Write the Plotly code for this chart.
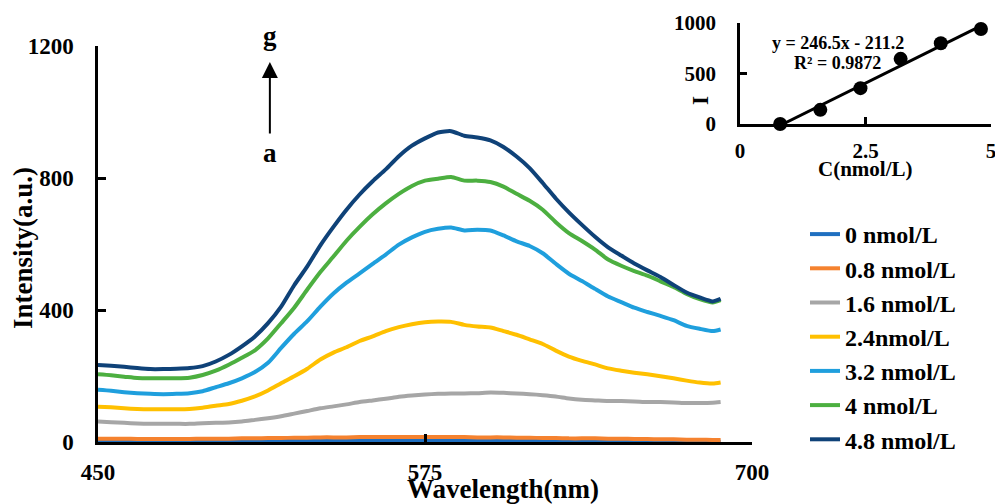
import plotly.graph_objects as go

# ---------------- data ----------------
wavelength = [450, 455, 460, 465, 470, 475, 480, 485, 490, 495, 500, 505, 510, 515, 520, 525,
              530, 535, 540, 545, 550, 555, 560, 565, 570, 575, 580, 585, 590, 595, 600, 605,
              610, 615, 620, 625, 630, 635, 640, 645, 650, 655, 660, 665, 670, 675, 680, 685, 688]

c0_0 = [4, 4, 3, 3, 3, 3, 3, 3, 3, 3, 3, 3, 3, 3, 4, 4,
        4, 4, 4, 4, 4, 4, 4, 4, 4, 4, 4, 4, 4, 4, 4, 4,
        4, 3, 3, 3, 3, 3, 3, 3, 3, 3, 2, 2, 2, 2, 2, 1, 1]
c0_8 = [10, 10, 10, 9, 9, 9, 9, 9, 10, 10, 10, 11, 11, 12, 12, 13,
        13, 14, 14, 14, 15, 15, 15, 15, 15, 15, 15, 15, 15, 14, 14, 14,
        13, 13, 12, 12, 11, 11, 11, 10, 10, 9, 9, 8, 8, 7, 7, 6, 6]
c1_6 = [62, 60, 58, 56, 55, 55, 55, 55, 57, 58, 59, 62, 67, 72, 78, 86,
        94, 102, 108, 114, 121, 126, 131, 137, 141, 144, 146, 147, 147, 148, 150, 149,
        147, 145, 142, 138, 132, 128, 126, 124, 124, 123, 121, 121, 120, 118, 118, 119, 121]
c2_4 = [107, 105, 102, 100, 99, 99, 99, 100, 104, 110, 115, 125, 138, 156, 178, 199,
        222, 250, 271, 287, 306, 320, 336, 348, 357, 363, 365, 364, 355, 350, 347, 336,
        325, 311, 297, 277, 259, 246, 235, 223, 216, 210, 205, 199, 193, 186, 180, 177, 180]
c3_2 = [158, 155, 151, 148, 146, 145, 146, 148, 154, 166, 178, 193, 212, 240, 285, 328,
        366, 410, 450, 483, 511, 540, 568, 598, 620, 637, 646, 650, 641, 643, 641, 626,
        608, 594, 572, 540, 510, 488, 464, 441, 424, 407, 394, 382, 369, 352, 343, 336, 341]
c4_0 = [205, 202, 198, 194, 193, 193, 193, 195, 203, 216, 234, 255, 278, 314, 360, 407,
        462, 515, 562, 610, 652, 690, 723, 752, 776, 792, 798, 803, 792, 792, 788, 774,
        752, 731, 704, 666, 633, 609, 583, 553, 534, 518, 504, 487, 470, 449, 433, 423, 430]
c4_8 = [233, 231, 228, 224, 221, 221, 222, 224, 230, 244, 264, 290, 320, 360, 410, 475,
        532, 596, 652, 704, 750, 790, 826, 866, 898, 920, 938, 942, 928, 923, 914, 894,
        865, 830, 785, 738, 696, 658, 622, 590, 565, 541, 520, 500, 476, 453, 438, 426, 434]

series_names = ["0 nmol/L", "0.8 nmol/L", "1.6 nmol/L", "2.4nmol/L", "3.2 nmol/L", "4 nmol/L", "4.8 nmol/L"]
series_values = [c0_0, c0_8, c1_6, c2_4, c3_2, c4_0, c4_8]
series_colors = ["#1F6FC0", "#F5822F", "#A6A6A6", "#FFC000", "#1F9FDD", "#4CAF40", "#0F4278"]

# inset calibration data
conc = [0.8, 1.6, 2.4, 3.2, 4.0, 4.8]
inset_I = [0, 140, 355, 645, 800, 940]
fit_slope = 246.5
fit_intercept = -211.2

FONT = "Liberation Serif, Times New Roman, serif"

fig = go.Figure()

for name, vals, col in zip(series_names, series_values, series_colors):
    fig.add_trace(go.Scatter(x=wavelength, y=vals, mode="lines", name=name,
                             line=dict(color=col, width=4, shape="spline", smoothing=0.6),
                             xaxis="x", yaxis="y"))

# inset: trend line computed from fit
x_start = -fit_intercept / fit_slope
x_end = conc[-1]
fig.add_trace(go.Scatter(x=[x_start, x_end],
                         y=[fit_slope * x_start + fit_intercept, fit_slope * x_end + fit_intercept],
                         mode="lines", line=dict(color="black", width=3),
                         showlegend=False, xaxis="x2", yaxis="y2", cliponaxis=False))
fig.add_trace(go.Scatter(x=conc, y=inset_I, mode="markers",
                         marker=dict(color="black", size=14),
                         showlegend=False, xaxis="x2", yaxis="y2", cliponaxis=False))

W, H = 995, 504
ml, mr, mt, mb = 98, 4, 23, 62
pw = W - ml - mr
ph = H - mt - mb


def px2paper_x(px):
    return (px - ml) / pw


def px2paper_y(py):
    return (H - mb - py) / ph


def bf(size):
    return dict(family=FONT, size=size, color="black", weight="bold")


fig.update_layout(
    width=W, height=H,
    margin=dict(l=ml, r=mr, t=mt, b=mb, autoexpand=False),
    paper_bgcolor="white", plot_bgcolor="rgba(0,0,0,0)",
    font=dict(family=FONT, color="black", weight="bold"),
    xaxis=dict(domain=[0, px2paper_x(752)], range=[450, 700], tickvals=[450, 575, 700],
               ticks="inside", ticklen=8, tickwidth=2.5, tickcolor="black",
               showline=True, linecolor="black", linewidth=3, showgrid=False, zeroline=False,
               tickfont=bf(23), ticklabelstandoff=7, automargin=False,
               ticklabeloverflow="allow"),
    yaxis=dict(domain=[0, px2paper_y(46)], range=[0, 1200], tickvals=[0, 400, 800, 1200],
               ticks="inside", ticklen=8, tickwidth=2.5, tickcolor="black",
               showline=True, linecolor="black", linewidth=2.5, showgrid=False, zeroline=False,
               tickfont=bf(23), ticklabelstandoff=17, automargin=False,
               ticklabeloverflow="allow"),
    xaxis2=dict(domain=[px2paper_x(740), px2paper_x(991)], range=[0, 5], tickvals=[0, 2.5, 5],
                ticktext=["0", "2.5", "5"], anchor="y2",
                ticks="inside", ticklen=7, tickwidth=2.5, tickcolor="black",
                showline=True, linecolor="black", linewidth=3, showgrid=False, zeroline=False,
                tickfont=bf(21), ticklabelstandoff=6, automargin=False,
                ticklabeloverflow="allow"),
    yaxis2=dict(domain=[px2paper_y(124), 1.0], range=[0, 1000], tickvals=[0, 500, 1000],
                anchor="x2", ticks="inside", ticklen=7, tickwidth=2.5, tickcolor="black",
                showline=True, linecolor="black", linewidth=2.5, showgrid=False, zeroline=False,
                tickfont=bf(21), ticklabelstandoff=17, automargin=False,
                ticklabeloverflow="allow"),
    legend=dict(x=px2paper_x(805), y=px2paper_y(212), xanchor="left", yanchor="top",
                font=bf(24), bgcolor="rgba(0,0,0,0)"),
    showlegend=True,
)


def paper_text(px, py, text, size, angle=0):
    fig.add_annotation(x=px2paper_x(px), y=px2paper_y(py), xref="paper", yref="paper",
                       text=text, showarrow=False, font=bf(size), textangle=angle,
                       xanchor="center", yanchor="middle")


# axis titles
paper_text(503, 489, "Wavelength(nm)", 27)
paper_text(23, 248, "Intensity(a.u.)", 27, -90)
paper_text(865, 169, "C(nmol/L)", 21)
paper_text(701, 101, "I", 23, -90)

# g -> a arrow
arrow_x = 515.7
fig.add_annotation(x=arrow_x, y=px2paper_y(36), xref="x", yref="paper", text="g",
                   showarrow=False, font=bf(27), yanchor="middle")
fig.add_annotation(x=arrow_x, y=px2paper_y(153), xref="x", yref="paper", text="a",
                   showarrow=False, font=bf(27), yanchor="middle")
fig.add_annotation(x=arrow_x, y=px2paper_y(62), xref="x", yref="paper",
                   ax=0, ay=73, axref="pixel", ayref="pixel",
                   text="", showarrow=True, arrowhead=2, arrowsize=1.6, arrowwidth=2,
                   arrowcolor="black")

# inset annotations
fig.add_annotation(x=1.95, y=802, xref="x2", yref="y2", text="y = 246.5x - 211.2",
                   showarrow=False, font=bf(18))
fig.add_annotation(x=1.95, y=604, xref="x2", yref="y2", text="R² = 0.9872",
                   showarrow=False, font=bf(18))

fig.write_html("out.html", config={"displayModeBar": False},
               post_script="document.body.style.margin='0px';")
